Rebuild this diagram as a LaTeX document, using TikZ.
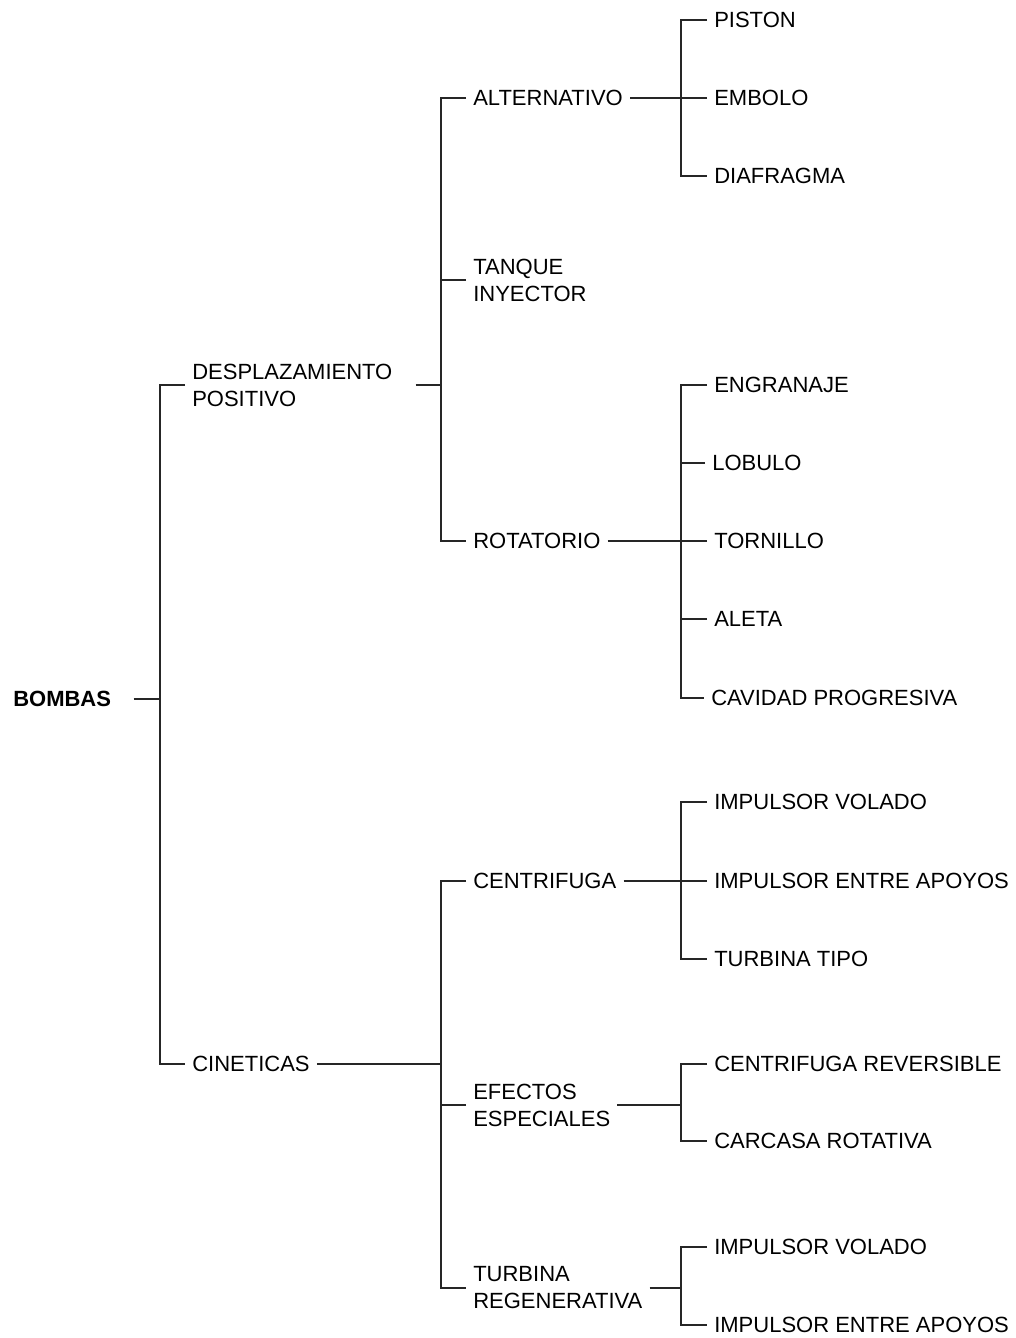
\documentclass[tikz,border=0pt]{standalone}
\usepackage{fontspec}
\setmainfont{Liberation Sans}
\begin{document}
\begin{tikzpicture}[x=0.75pt,y=-0.75pt,
  lbl/.style={anchor=west, inner xsep=5.25pt, inner ysep=0pt, align=left,
              font=\fontsize{16.5pt}{20.25pt}\selectfont},
  link/.style={draw=black!85, line width=1pt, line join=miter}]
\useasboundingbox (0,0) rectangle (1016,1338);

% x positions of the vertical bars of each level
\coordinate (s0) at (160,0);
\coordinate (s1) at (441,0);
\coordinate (s2) at (681,0);

% root and first level
\node[lbl, font=\fontsize{16.5pt}{20.25pt}\selectfont\bfseries, text width=84.75pt] (bombas) at (6,699) {BOMBAS};
\node[lbl, text width=162pt] (desp) at (185,385) {DESPLAZAMIENTO\\POSITIVO};
\node[lbl] (cin) at (185,1064) {CINETICAS};

% second level
\node[lbl] (alt) at (466,98) {ALTERNATIVO};
\node[lbl] (tanq) at (466,280) {TANQUE\\INYECTOR};
\node[lbl] (rot) at (466,541) {ROTATORIO};
\node[lbl] (cen) at (466,881) {CENTRIFUGA};
\node[lbl] (efe) at (466,1105) {EFECTOS\\ESPECIALES};
\node[lbl] (tur) at (466,1288) {TURBINA\\REGENERATIVA};

% third level
\node[lbl] (pis) at (707,20) {PISTON};
\node[lbl] (emb) at (707,98) {EMBOLO};
\node[lbl] (dia) at (707,176) {DIAFRAGMA};

\node[lbl] (eng) at (707,385) {ENGRANAJE};
\node[lbl] (lob) at (705,463) {LOBULO};
\node[lbl] (tor) at (707,541) {TORNILLO};
\node[lbl] (ale) at (707,619) {ALETA};
\node[lbl] (cav) at (704,698) {CAVIDAD PROGRESIVA};

\node[lbl] (iva) at (707,802) {IMPULSOR VOLADO};
\node[lbl] (iea) at (707,881) {IMPULSOR ENTRE APOYOS};
\node[lbl] (tt) at (707,959) {TURBINA TIPO};

\node[lbl] (cr) at (707,1064) {CENTRIFUGA REVERSIBLE};
\node[lbl] (ca) at (707,1141) {CARCASA ROTATIVA};

\node[lbl] (ivb) at (707,1247) {IMPULSOR VOLADO};
\node[lbl] (ieb) at (707,1325) {IMPULSOR ENTRE APOYOS};

% BOMBAS
\draw[link] (bombas.east) -- (bombas.east -| s0);
\draw[link] (desp.west) -- (desp.west -| s0) -- (cin.west -| s0) -- (cin.west);

% DESPLAZAMIENTO POSITIVO
\draw[link] (desp.east) -- (desp.east -| s1);
\draw[link] (alt.west) -- (alt.west -| s1) -- (rot.west -| s1) -- (rot.west);
\draw[link] (tanq.west) -- (tanq.west -| s1);

% CINETICAS
\draw[link] (cin.east) -- (cin.east -| s1);
\draw[link] (cen.west) -- (cen.west -| s1) -- (tur.west -| s1) -- (tur.west);
\draw[link] (efe.west) -- (efe.west -| s1);

% ALTERNATIVO
\draw[link] (alt.east) -- (alt.east -| s2);
\draw[link] (pis.west) -- (pis.west -| s2) -- (dia.west -| s2) -- (dia.west);
\draw[link] (emb.west) -- (emb.west -| s2);

% ROTATORIO
\draw[link] (rot.east) -- (rot.east -| s2);
\draw[link] (eng.west) -- (eng.west -| s2) -- (cav.west -| s2) -- (cav.west);
\draw[link] (lob.west) -- (lob.west -| s2);
\draw[link] (tor.west) -- (tor.west -| s2);
\draw[link] (ale.west) -- (ale.west -| s2);

% CENTRIFUGA
\draw[link] (cen.east) -- (cen.east -| s2);
\draw[link] (iva.west) -- (iva.west -| s2) -- (tt.west -| s2) -- (tt.west);
\draw[link] (iea.west) -- (iea.west -| s2);

% EFECTOS ESPECIALES
\draw[link] (efe.east) -- (efe.east -| s2);
\draw[link] (cr.west) -- (cr.west -| s2) -- (ca.west -| s2) -- (ca.west);

% TURBINA REGENERATIVA
\draw[link] (tur.east) -- (tur.east -| s2);
\draw[link] (ivb.west) -- (ivb.west -| s2) -- (ieb.west -| s2) -- (ieb.west);
\end{tikzpicture}
\end{document}
